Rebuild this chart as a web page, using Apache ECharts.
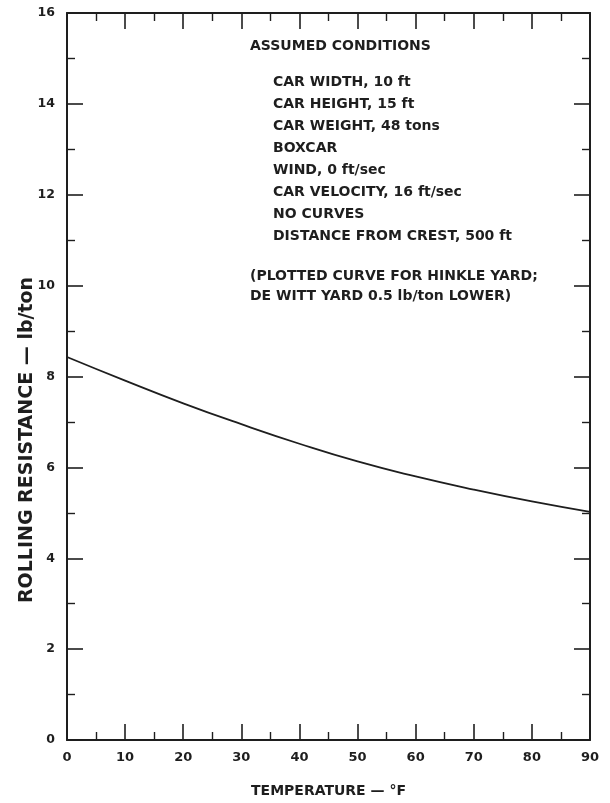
<!DOCTYPE html>
<html>
<head>
<meta charset="utf-8">
<script src="https://cdn.jsdelivr.net/npm/echarts@6/dist/echarts.min.js"></script>
<style>
  html, body { margin: 0; padding: 0; background: #ffffff; }
  #chart { width: 610px; height: 803px; }
</style>
</head>
<body>
<div id="chart"></div>
<script>
// Rolling resistance of a boxcar versus temperature (Hinkle Yard curve)
const temperatureF = [0, 10, 20, 30, 40, 50, 60, 70, 80, 90];
const rollingResistance = [8.43, 7.91, 7.41, 6.95, 6.52, 6.13, 5.80, 5.51, 5.25, 5.02];

const conditionsTitle = 'ASSUMED CONDITIONS';
const conditionLines = [
  'CAR WIDTH, 10 ft',
  'CAR HEIGHT, 15 ft',
  'CAR WEIGHT, 48 tons',
  'BOXCAR',
  'WIND, 0 ft/sec',
  'CAR VELOCITY, 16 ft/sec',
  'NO CURVES',
  'DISTANCE FROM CREST, 500 ft'
];
const noteLines = [
  '(PLOTTED CURVE FOR HINKLE YARD;',
  'DE WITT YARD 0.5 lb/ton LOWER)'
];

const INK = '#1e1e1e';
const FONT = '"DejaVu Sans", "Liberation Sans", Arial, sans-serif';

const chart = echarts.init(document.getElementById('chart'), null, { renderer: 'canvas' });

function frameAxis(extra) {
  return Object.assign({
    type: 'value',
    axisLine: { show: true, onZero: false, lineStyle: { color: INK, width: 2 } },
    axisTick: { show: true, inside: true, length: 16, lineStyle: { color: INK, width: 1.6 } },
    minorTick: { show: true, splitNumber: 2, length: 8, lineStyle: { color: INK, width: 1.4 } },
    splitLine: { show: false },
    minorSplitLine: { show: false }
  }, extra);
}

const labelStyle = { color: INK, fontFamily: FONT, fontWeight: 'bold', fontSize: 12.5 };

const graphics = [];
graphics.push({
  type: 'text', left: 250, top: 39,
  style: { text: conditionsTitle, fill: INK, font: 'bold 14px ' + FONT }
});
const condY = [83, 105, 127, 149, 171, 193, 215, 237];
conditionLines.forEach((t, i) => {
  graphics.push({
    type: 'text', left: 273, top: condY[i] - 8,
    style: { text: t, fill: INK, font: 'bold 14px ' + FONT }
  });
});
const noteY = [277, 297];
noteLines.forEach((t, i) => {
  graphics.push({
    type: 'text', left: 250, top: noteY[i] - 8,
    style: { text: t, fill: INK, font: 'bold 14px ' + FONT }
  });
});
graphics.push({
  type: 'text', x: 27, y: 440, rotation: Math.PI / 2,
  style: {
    text: 'ROLLING RESISTANCE \u2014 lb/ton', fill: INK,
    font: 'bold 19px ' + FONT, align: 'center', verticalAlign: 'middle'
  }
});

chart.setOption({
  backgroundColor: '#ffffff',
  animation: false,
  grid: { left: 67, right: 20, top: 13, bottom: 62, containLabel: false },
  xAxis: [
    frameAxis({
      min: 0, max: 90, interval: 10, position: 'bottom',
      axisLabel: Object.assign({}, labelStyle, { margin: 11, fontSize: 13 }),
      name: 'TEMPERATURE \u2014 \u00B0F', nameLocation: 'middle', nameGap: 44,
      nameTextStyle: { color: INK, fontFamily: FONT, fontWeight: 'bold', fontSize: 14 }
    }),
    frameAxis({
      min: 0, max: 90, interval: 10, position: 'top',
      axisLabel: { show: false }
    })
  ],
  yAxis: [
    frameAxis({
      min: 0, max: 16, interval: 2, position: 'left',
      axisLabel: Object.assign({}, labelStyle, { margin: 12 })
    }),
    frameAxis({
      min: 0, max: 16, interval: 2, position: 'right',
      axisLabel: { show: false }
    })
  ],
  graphic: graphics,
  series: [{
    type: 'line',
    xAxisIndex: 0, yAxisIndex: 0,
    data: temperatureF.map((t, i) => [t, rollingResistance[i]]),
    smooth: true,
    showSymbol: false,
    lineStyle: { color: INK, width: 1.8 }
  }]
});
</script>
</body>
</html>
